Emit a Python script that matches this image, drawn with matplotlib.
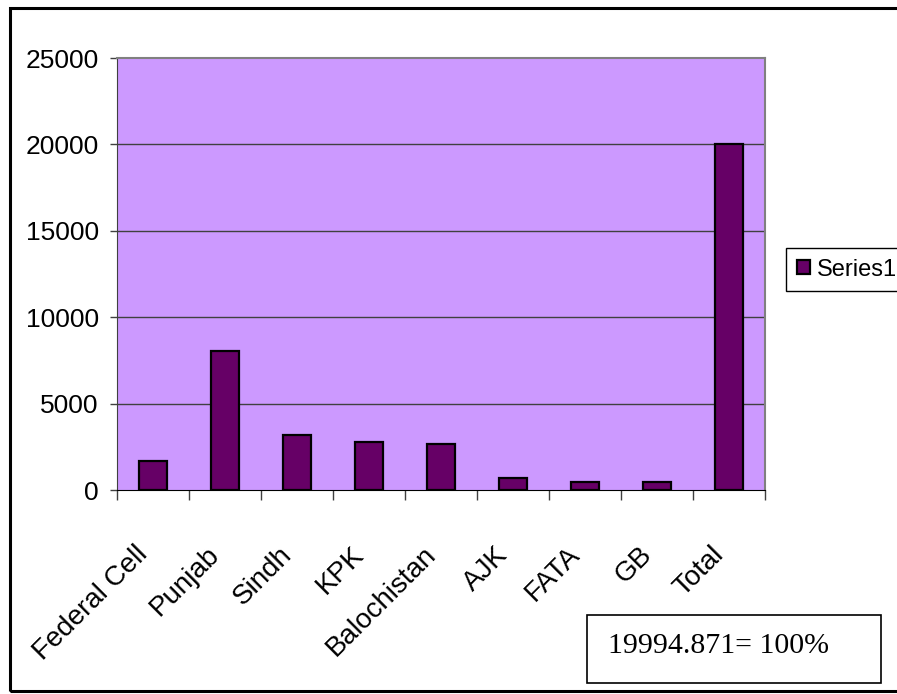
import matplotlib
matplotlib.use("Agg")
import matplotlib.pyplot as plt
from matplotlib.patches import Rectangle

# values
regions = ['Federal Cell', 'Punjab', 'Sindh', 'KPK', 'Balochistan', 'AJK', 'FATA', 'GB', 'Total']
amounts = [1680, 8050, 3190, 2780, 2660, 720, 440, 440, 19994.871]
y_ticks = [0, 5000, 10000, 15000, 20000, 25000]
series_name = 'Series1'
note = '19994.871= 100%'

sans = ['Liberation Sans', 'DejaVu Sans']
serif = ['Liberation Serif', 'DejaVu Serif']

W, H = 897, 694
fig = plt.figure(figsize=(W / 100, H / 100), dpi=100)

def fx(px):
    return px / W

def fy(py):
    return 1 - py / H

ax = fig.add_axes([fx(117), fy(490), fx(765) - fx(117), fy(58) - fy(490)])
ax.set_facecolor('#CC99FF')

xs = [i + 0.5 for i in range(len(regions))]
bars = ax.bar(xs, amounts, width=0.4, color='#660066', edgecolor='black',
              linewidth=1.6, label=series_name, zorder=3)

ax.set_xlim(0, len(regions))
ax.set_ylim(y_ticks[0], y_ticks[-1])

# y axis
ax.set_yticks(y_ticks)
ax.set_yticklabels([str(v) for v in y_ticks], family=sans, fontsize=19)
ax.tick_params(axis='y', length=5, width=1, color='#404040', pad=8)
for v in y_ticks[1:-1]:
    ax.axhline(v, color='#404040', lw=1.0, zorder=1)

# x axis: ticks between categories, labels at centres
ax.set_xticks(range(len(regions) + 1))
ax.set_xticklabels([])
ax.tick_params(axis='x', which='major', length=7, width=1, color='#404040')
ax.set_xticks(xs, minor=True)
ax.set_xticklabels(regions, minor=True, rotation=45, ha='right', va='top',
                   family=sans, fontsize=20)
ax.tick_params(axis='x', which='minor', length=0, pad=37)

for side in ['top', 'right']:
    ax.spines[side].set_color('#808080')
    ax.spines[side].set_linewidth(1.5)
ax.spines['left'].set_color('#404040')
ax.spines['bottom'].set_color('black')

# legend, its box runs off the right edge like the original
fig.legend(handles=[bars], labels=[series_name], loc='upper left',
           bbox_to_anchor=(fx(786), fy(248)), prop={'family': sans, 'size': 17},
           frameon=True, fancybox=False, edgecolor='black', framealpha=1,
           handlelength=0.55, handleheight=0.55, handletextpad=0.3,
           borderpad=0.45, borderaxespad=0)

# text box with the total
fig.add_artist(Rectangle((fx(587), fy(683)), fx(881) - fx(587), fy(615) - fy(683),
                         transform=fig.transFigure, fill=False, ec='black', lw=1.2))
fig.text(fx(608), fy(653), note, family=serif, fontsize=21.5, va='baseline', ha='left')

# outer frame (right side runs off the picture)
fig.add_artist(Rectangle((fx(10), fy(691)), 1.2, fy(8) - fy(691),
                         transform=fig.transFigure, fill=False, ec='black', lw=2.2))

fig.savefig('out.png', dpi=100)
